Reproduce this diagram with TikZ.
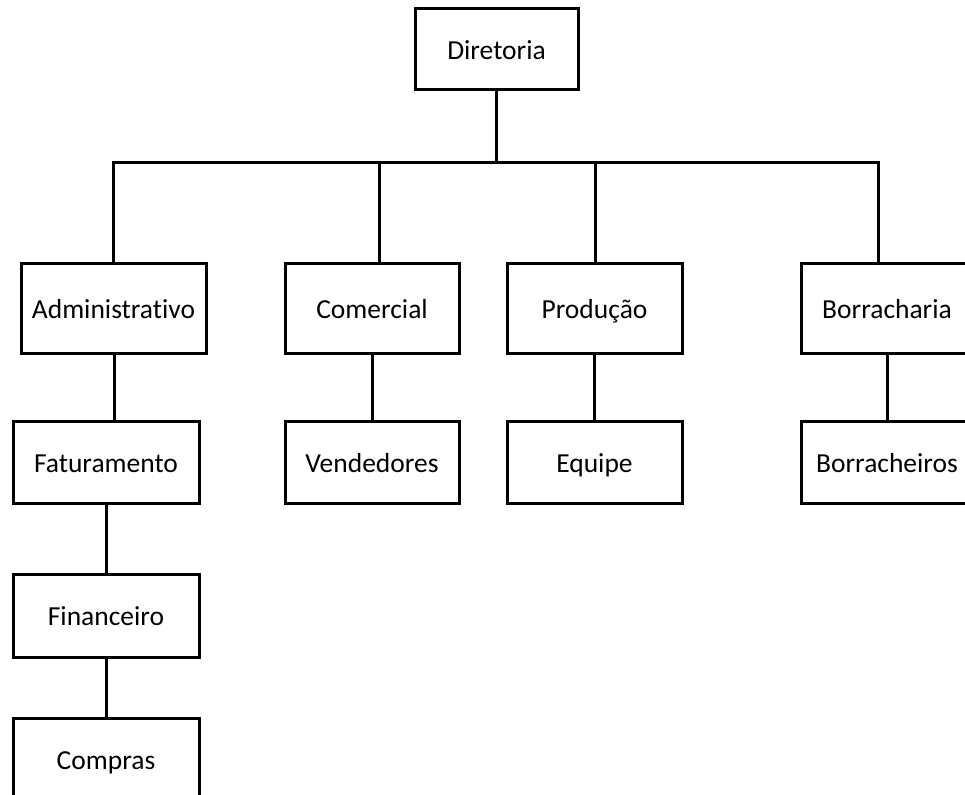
\documentclass[tikz,border=0pt]{standalone}
\usepackage{fontspec}
\setmainfont[Ligatures=NoCommon]{Carlito}
\begin{document}
\begin{tikzpicture}[x=1pt,y=-1pt,
  unit/.style={draw=black, line width=3pt, fill=white, inner sep=0pt,
    font=\fontsize{27.5}{31}\selectfont, text=black,
    text height=20.7pt, text depth=0pt},
  link/.style={draw=black, line width=3pt}]
  \useasboundingbox (0,0) rectangle (965,794);
  \clip (0,0) rectangle (965,794);

  % top of the chart
  \node[unit, minimum width=163pt, minimum height=81pt] (dir) at (496.5,49.5) {Diretoria};

  % departments
  \node[unit, minimum width=185pt, minimum height=90pt] (adm) at (113.5,308) {Administrativo};
  \node[unit, minimum width=174pt, minimum height=90pt] (com) at (372,308) {Comercial};
  \node[unit, minimum width=175pt, minimum height=90pt] (prod) at (594.5,308) {Produção};
  \node[unit, minimum width=172pt, minimum height=90pt] (borr) at (887,308) {Borracharia};

  % second level
  \node[unit, minimum width=186pt, minimum height=82pt] (fat) at (106,462) {Faturamento};
  \node[unit, minimum width=174pt, minimum height=82pt] (ven) at (372,462) {Vendedores};
  \node[unit, minimum width=175pt, minimum height=82pt] (equ) at (594.5,462) {Equipe};
  \node[unit, minimum width=172pt, minimum height=82pt] (brc) at (887,462) {Borracheiros};

  % administrative chain
  \node[unit, minimum width=186pt, minimum height=83pt] (fin) at (106,615.5) {Financeiro};
  \node[unit, minimum width=186pt, minimum height=83pt] (cmp) at (106,759.5) {Compras};

  % distribution bar
  \coordinate (barL) at (113,163);
  \coordinate (barR) at (878,163);
  \coordinate (dropC) at (379,163);
  \coordinate (dropP) at (595,163);
  \coordinate (dropD) at (496.5,163);

  \draw[link] (dir.south) -- (dropD);
  \draw[link] (barL |- adm.north) -- (barL) -- (barR) -- (barR |- borr.north);
  \draw[link] (dropC) -- (dropC |- com.north);
  \draw[link] (dropP) -- (dropP |- prod.north);

  % lower links
  \coordinate (admB) at (114,353);
  \draw[link] (admB) -- (admB |- fat.north);
  \draw[link] (fat.south) -- (fin.north);
  \draw[link] (fin.south) -- (cmp.north);
  \draw[link] (com.south) -- (ven.north);
  \draw[link] (prod.south) -- (equ.north);
  \draw[link] (borr.south) -- (brc.north);
\end{tikzpicture}
\end{document}
